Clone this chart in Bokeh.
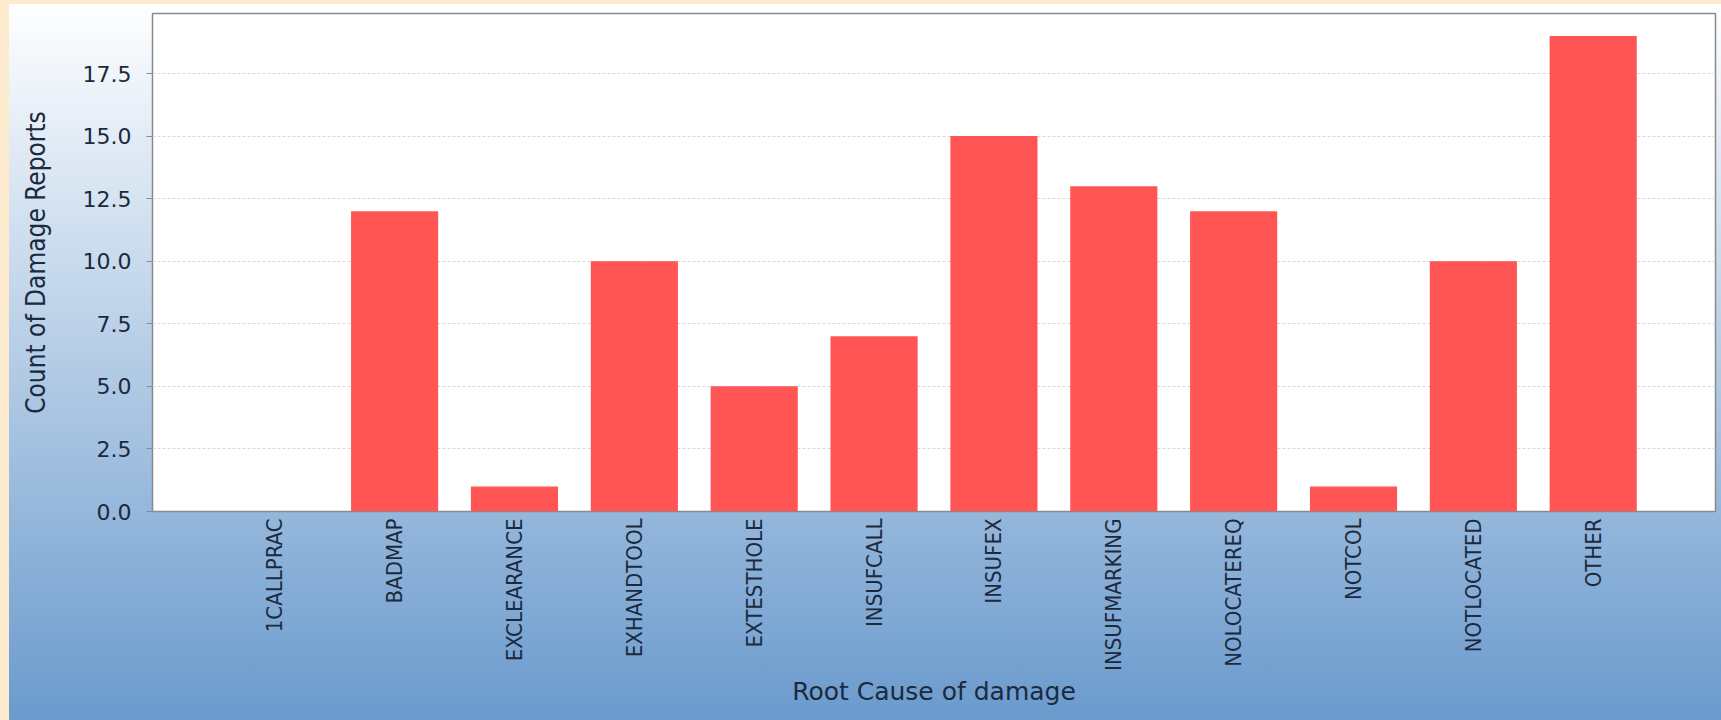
from bokeh.plotting import figure
from bokeh.models import FactorRange, Range1d, FixedTicker, PrintfTickFormatter, ColumnDataSource
from bokeh.embed import file_html
from bokeh.resources import INLINE
import math

categories = ["1CALLPRAC", "BADMAP", "EXCLEARANCE", "EXHANDTOOL", "EXTESTHOLE", "INSUFCALL",
              "INSUFEX", "INSUFMARKING", "NOLOCATEREQ", "NOTCOL", "NOTLOCATED", "OTHER"]
counts = [0, 12, 1, 10, 5, 7, 15, 13, 12, 1, 10, 19]
y_ticks = [0, 2.5, 5, 7.5, 10, 12.5, 15, 17.5]

source = ColumnDataSource(data=dict(cat=categories, count=counts))

NARROW = "Liberation Sans Narrow, DejaVu Sans Condensed, Arial Narrow, sans-serif"
TEXT = "#1B2A3E"

p = figure(
    x_range=FactorRange(factors=categories, range_padding=0.52, range_padding_units="absolute"),
    y_range=Range1d(0, 19.9),
    width=1721, height=720,
    min_border_left=152, min_border_right=6, min_border_top=13, min_border_bottom=209,
    output_backend="svg", toolbar_location=None,
)
p.styles = {
    "background": ("linear-gradient(to right, #FDEBD0 9px, rgba(0,0,0,0) 9px), "
                   "linear-gradient(to bottom, #FDEBD0 4px, rgba(0,0,0,0) 4px), "
                   "linear-gradient(to bottom, #FFFFFF 0%, #6A9ACD 100%)")
}
p.border_fill_alpha = 0
p.background_fill_color = "#FFFFFF"
p.outline_line_color = "#8A8A8A"
p.outline_line_width = 1.5

p.vbar(x="cat", top="count", width=0.727, source=source,
       fill_color="#FF5555", line_color="#FF5555", line_alpha=0.0)

# grid
p.xgrid.grid_line_color = None
p.ygrid.ticker = FixedTicker(ticks=y_ticks)
p.ygrid.grid_line_color = "#D8D8D8"
p.ygrid.grid_line_dash = "3 2"
p.ygrid.grid_line_width = 1

# y axis
p.yaxis.ticker = FixedTicker(ticks=y_ticks)
p.yaxis.formatter = PrintfTickFormatter(format="%.1f")
p.yaxis.axis_line_color = None
p.yaxis.major_tick_line_color = "#8A8A8A"
p.yaxis.major_tick_out = 6
p.yaxis.major_tick_in = 0
p.yaxis.minor_tick_line_color = None
p.yaxis.major_label_standoff = 15
p.yaxis.major_label_text_font = "DejaVu Sans"
p.yaxis.major_label_text_font_size = "22px"
p.yaxis.major_label_text_color = TEXT
p.yaxis.axis_label = "Count of Damage Reports"
p.yaxis.axis_label_text_font = NARROW
p.yaxis.axis_label_text_font_size = "26px"
p.yaxis.axis_label_text_font_style = "normal"
p.yaxis.axis_label_text_color = TEXT
p.yaxis.axis_label_standoff = 29

# x axis
p.xaxis.axis_line_color = None
p.xaxis.major_tick_line_color = None
p.xaxis.major_tick_out = 0
p.xaxis.minor_tick_line_color = None
p.xaxis.major_label_orientation = math.pi / 2
p.xaxis.major_label_standoff = 7
p.xaxis.major_label_text_font = NARROW
p.xaxis.major_label_text_font_size = "22px"
p.xaxis.major_label_text_color = TEXT
p.xaxis.axis_label = "Root Cause of damage"
p.xaxis.axis_label_text_font = "DejaVu Sans"
p.xaxis.axis_label_text_font_size = "25px"
p.xaxis.axis_label_text_font_style = "normal"
p.xaxis.axis_label_text_color = TEXT
p.xaxis.axis_label_standoff = 3

open("out.html", "w").write(file_html(p, INLINE))
